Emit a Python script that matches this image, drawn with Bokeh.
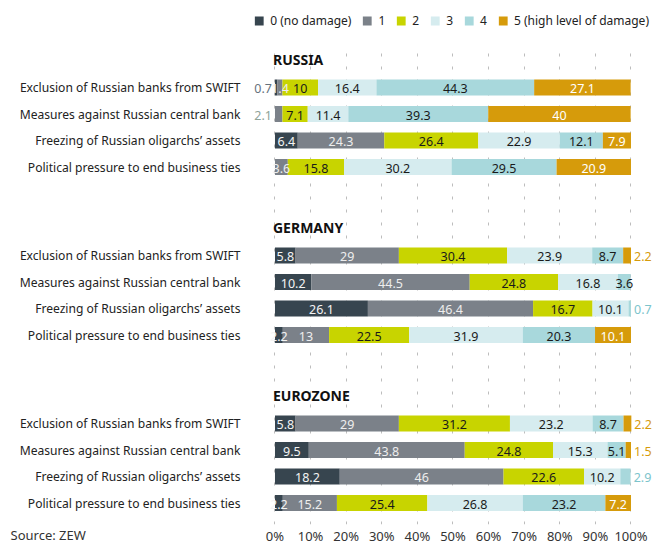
from bokeh.plotting import figure
from bokeh.layouts import column
from bokeh.models import (ColumnDataSource, FixedTicker, PrintfTickFormatter, Legend,
                          LegendItem, Title, Range1d)
from bokeh.embed import file_html
from bokeh.resources import INLINE
from bokeh.core.properties import value

# ---------------- data ----------------
regions = ["RUSSIA", "GERMANY", "EUROZONE"]
questions = [
    "Exclusion of Russian banks from SWIFT",
    "Measures against Russian central bank",
    "Freezing of Russian oligarchs’ assets",
    "Political pressure to end business ties",
]
levels = ["0 (no damage)", "1", "2", "3", "4", "5 (high level of damage)"]

# shares (%) per damage level; rows = region x question (Russia, Germany, Eurozone)
level0 = [0.7, 0, 6.4, 0, 5.8, 10.2, 26.1, 2.2, 5.8, 9.5, 18.2, 2.2]
level1 = [1.4, 2.1, 24.3, 3.6, 29, 44.5, 46.4, 13, 29, 43.8, 46, 15.2]
level2 = [10, 7.1, 26.4, 15.8, 30.4, 24.8, 16.7, 22.5, 31.2, 24.8, 22.6, 25.4]
level3 = [16.4, 11.4, 22.9, 30.2, 23.9, 16.8, 10.1, 31.9, 23.2, 15.3, 10.2, 26.8]
level4 = [44.3, 39.3, 12.1, 29.5, 8.7, 3.6, 0.7, 20.3, 8.7, 5.1, 2.9, 23.2]
level5 = [27.1, 40, 7.9, 20.9, 2.2, 0, 0, 10.1, 2.2, 1.5, 0, 7.2]
x_ticks = [0, 10, 20, 30, 40, 50, 60, 70, 80, 90, 100]
source_note = "Source: ZEW"

# ---------------- style ----------------
FONT = "Noto Sans"
colors = ["#37454f", "#7b8189", "#c8d400", "#d6ecef", "#a8d8dc", "#d69b0b"]
inside_text = ["#f4f4f4", "#eeeeee", "#1a1a1a", "#1a1a1a", "#1a1a1a", "#ffffff"]
outside_text = ["#66727d", "#8ea398", "#b5c000", "#a0c8cc", "#7cc4cc", "#d69b0b"]

# vertical layout units (2 units = 1 px)
GROUP = 336      # distance between region blocks
ROW = 53         # distance between bars
TITLE_GAP = 56   # title above first bar
BAR_H = 32

series = [level0, level1, level2, level3, level4, level5]
keys = [f"c{i}" for i in range(6)]

ys, title_y = [], []
for g, _ in enumerate(regions):
    title_y.append(-(g * GROUP) + TITLE_GAP)
    for r, _ in enumerate(questions):
        ys.append(-(g * GROUP + ROW * r))

data = {"y": ys}
for k, s in zip(keys, series):
    data[k] = s
src = ColumnDataSource(data)

# ---------------- legend strip ----------------
leg = figure(width=661, height=32, output_backend="svg", toolbar_location=None,
             x_range=Range1d(0, 1), y_range=Range1d(0, 1),
             min_border=0, x_axis_type=None, y_axis_type=None)
leg.outline_line_color = None
leg.grid.visible = False
# dummy swatch renderers, drawn outside the visible range (legend only)
leg_r = [leg.hbar(y=[-5], left=[0], right=[1], height=1, color=c, line_color=None) for c in colors]
legend = Legend(items=[LegendItem(label=l, renderers=[r]) for l, r in zip(levels, leg_r)],
                orientation="horizontal", location="top_right",
                glyph_width=11, glyph_height=11, label_standoff=6, spacing=10,
                label_width=1, label_height=14,
                padding=0, margin=12, border_line_color=None, background_fill_alpha=0,
                label_text_font=FONT, label_text_font_size="12px",
                label_text_color="#222222")
leg.add_layout(legend)

# ---------------- main chart ----------------
p = figure(frame_width=415, frame_height=479, output_backend="svg", toolbar_location=None,
           x_range=Range1d(-8, 108.57), y_range=Range1d(-874, 84),
           min_border_left=246, min_border_right=0, min_border_top=13,
           min_border_bottom=20)
p.outline_line_color = None

renderers = p.hbar_stack(keys, y="y", height=BAR_H, color=colors, line_color=None, source=src)

# ---- value labels ----
lx, ly, lt, lc, la, lo = [], [], [], [], [], []
for i, y in enumerate(ys):
    vals = [s[i] for s in series]
    nz = [j for j, v in enumerate(vals) if v > 0]
    first, last = nz[0], nz[-1]
    cum = 0.0
    for j, v in enumerate(vals):
        if v <= 0:
            continue
        txt = f"{v:g}"
        if j == first and v < 2.15:
            lx.append(cum); la.append("right"); lo.append(-3); lc.append(outside_text[j])
        elif j == last and v < 3:
            lx.append(cum + v); la.append("left"); lo.append(3); lc.append(outside_text[j])
        else:
            lx.append(cum + v / 2); la.append("center"); lo.append(0); lc.append(inside_text[j])
        ly.append(y); lt.append(txt)
        cum += v

lsrc = ColumnDataSource(dict(x=lx, y=ly, text=lt, color=lc, align=la, xo=lo))
p.text(x="x", y="y", text="text", text_color="color", text_align="align", x_offset="xo",
       y_offset=1, text_baseline="middle", text_font=value(FONT), text_font_size="12.5px",
       source=lsrc)

# ---- region titles ----
tsrc = ColumnDataSource(dict(x=[0] * len(regions), y=title_y, text=regions))
p.text(x="x", y="y", text="text", text_align="left", text_baseline="middle", x_offset=-2,
       text_font=value(FONT), text_font_size="14px", text_font_style="bold",
       text_color="#111111", source=tsrc)

# ---- axes ----
p.xaxis.ticker = FixedTicker(ticks=x_ticks)
p.xaxis.formatter = PrintfTickFormatter(format="%d%%")
p.xaxis.axis_line_color = None
p.xaxis.major_tick_line_color = None
p.xaxis.minor_tick_line_color = None
p.xaxis.major_tick_out = 0
p.xaxis.major_label_standoff = 2
p.xaxis.major_label_text_font = FONT
p.xaxis.major_label_text_font_size = "13px"
p.xaxis.major_label_text_color = "#333333"

p.yaxis.ticker = FixedTicker(ticks=ys)
p.yaxis.major_label_overrides = {y: questions[i % len(questions)] for i, y in enumerate(ys)}
p.yaxis.axis_line_color = None
p.yaxis.major_tick_line_color = None
p.yaxis.minor_tick_line_color = None
p.yaxis.major_tick_out = 0
p.yaxis.major_label_standoff = 6
p.yaxis.major_label_text_font = FONT
p.yaxis.major_label_text_font_size = "12.1px"
p.yaxis.major_label_text_color = "#222222"

p.xgrid.ticker = FixedTicker(ticks=x_ticks)
p.xgrid.grid_line_color = "#bdbdbd"
p.xgrid.grid_line_dash = "3 10"
p.ygrid.grid_line_color = None

# ---- source note: bottom panel title, pulled up onto the tick label line ----
p.add_layout(Title(text=source_note, align="left", offset=-236, standoff=-44,
                   vertical_align="top", text_font=FONT, text_font_size="13px",
                   text_font_style="normal", text_color="#333333"), "below")

layout = column(leg, p, spacing=0)
open("out.html", "w").write(file_html(layout, INLINE))
